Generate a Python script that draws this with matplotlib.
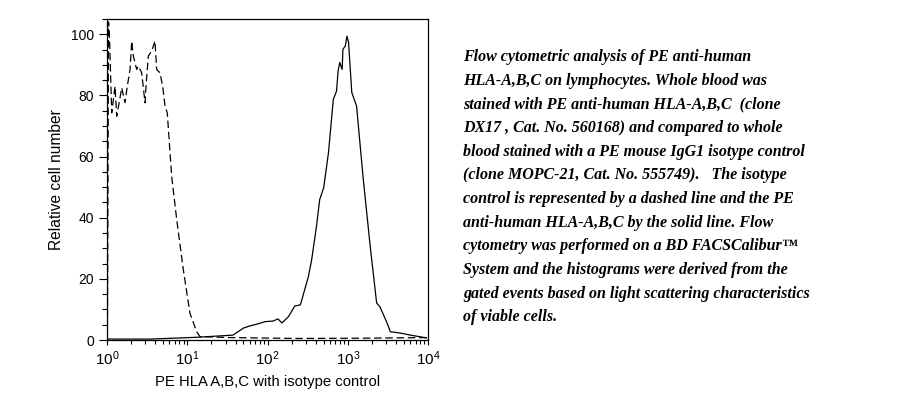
import numpy as np
import matplotlib
matplotlib.use('Agg')
import matplotlib.pyplot as plt
from matplotlib.ticker import LogLocator, MultipleLocator, NullFormatter

plt.rcParams['font.family'] = ['Liberation Sans', 'DejaVu Sans']

# PE anti-human HLA-A,B,C (solid), log10 of intensity vs relative count
hla_log = [0.0, 0.54, 1.13, 1.57, 1.70, 1.78, 1.87, 1.97, 2.07, 2.13, 2.18, 2.26,
           2.34, 2.41, 2.51, 2.55, 2.61, 2.65, 2.70, 2.76, 2.82, 2.86, 2.88, 2.90,
           2.93, 2.94, 2.97, 2.99, 3.01, 3.05, 3.11, 3.19, 3.28, 3.36, 3.40, 3.49,
           3.53, 3.65, 3.78, 3.98]
hla_count = [0.3, 0.3, 0.9, 1.6, 3.9, 4.6, 5.2, 6.0, 6.2, 6.9, 5.6, 7.6,
             11.1, 11.5, 20.8, 26.2, 37.1, 45.9, 49.8, 61.3, 78.7, 81.4, 88.0, 90.8,
             88.5, 95.1, 96.2, 99.4, 97.4, 81.0, 76.5, 53.5, 30.6, 12.1, 10.9, 5.6,
             2.7, 2.3, 1.6, 0.7]

# isotype control (dashed)
iso_log = [0.005, 0.019, 0.031, 0.059, 0.100, 0.121, 0.162, 0.183, 0.224, 0.253,
           0.287, 0.308, 0.328, 0.370, 0.390, 0.432, 0.474, 0.486, 0.515, 0.557,
           0.598, 0.619, 0.660, 0.694, 0.723, 0.751, 0.806, 0.869, 0.951, 1.034,
           1.118, 1.159, 1.53, 2.4, 3.2, 4.0]
iso_count = [0.0, 104.0, 99.0, 74.3, 83.0, 73.2, 79.2, 82.5, 77.6, 83.0,
             88.5, 97.8, 92.9, 88.5, 89.6, 87.4, 77.6, 83.0, 92.9, 94.5,
             97.8, 88.5, 87.4, 83.0, 76.5, 74.3, 53.5, 39.3, 23.0, 8.7,
             2.7, 1.1, 0.8, 0.5, 0.6, 0.8]

caption = ("Flow cytometric analysis of PE anti-human\n"
           "HLA-A,B,C on lymphocytes. Whole blood was\n"
           "stained with PE anti-human HLA-A,B,C  (clone\n"
           "DX17 , Cat. No. 560168) and compared to whole\n"
           "blood stained with a PE mouse IgG1 isotype control\n"
           "(clone MOPC-21, Cat. No. 555749).   The isotype\n"
           "control is represented by a dashed line and the PE\n"
           "anti-human HLA-A,B,C by the solid line. Flow\n"
           "cytometry was performed on a BD FACSCalibur\u2122\n"
           "System and the histograms were derived from the\n"
           "gated events based on light scattering characteristics\n"
           "of viable cells.")

fig = plt.figure(figsize=(9.16, 3.99), dpi=100)
ax = fig.add_axes([107 / 916, 59 / 399, 321 / 916, 321 / 399])

ax.plot(10 ** np.array(hla_log), hla_count, color='black', lw=0.9)
ax.plot(10 ** np.array(iso_log), iso_count, color='black', lw=0.9,
        ls=(0, (6, 3)))

ax.set_xscale('log')
ax.set_xlim(1, 1e4)
ax.set_ylim(0, 105)
ax.xaxis.set_major_locator(LogLocator(base=10, numticks=10))
ax.xaxis.set_minor_locator(LogLocator(base=10, subs=np.arange(2, 10), numticks=50))
ax.xaxis.set_minor_formatter(NullFormatter())
ax.yaxis.set_major_locator(MultipleLocator(20))
ax.yaxis.set_minor_locator(MultipleLocator(5))

ax.tick_params(axis='both', which='both', direction='out', width=0.8,
               colors='black')
ax.tick_params(axis='x', which='major', length=3.5, pad=3, labelsize=11)
ax.tick_params(axis='x', which='minor', length=3)
ax.tick_params(axis='y', which='major', length=6, labelsize=10)
ax.tick_params(axis='y', which='minor', length=3.5)
for s in ax.spines.values():
    s.set_linewidth(0.9)

ax.set_xlabel('PE HLA A,B,C with isotype control', fontsize=10.7, labelpad=5.5)
ax.set_ylabel('Relative cell number', fontsize=11.2, labelpad=5)

fig.text(463 / 916, 1 - 49 / 399, caption, ha='left', va='top',
         fontsize=11.5, fontweight='bold', fontstyle='italic',
         family=['Liberation Serif', 'DejaVu Serif'], linespacing=1.64)

plt.savefig('out.png', dpi=100)
